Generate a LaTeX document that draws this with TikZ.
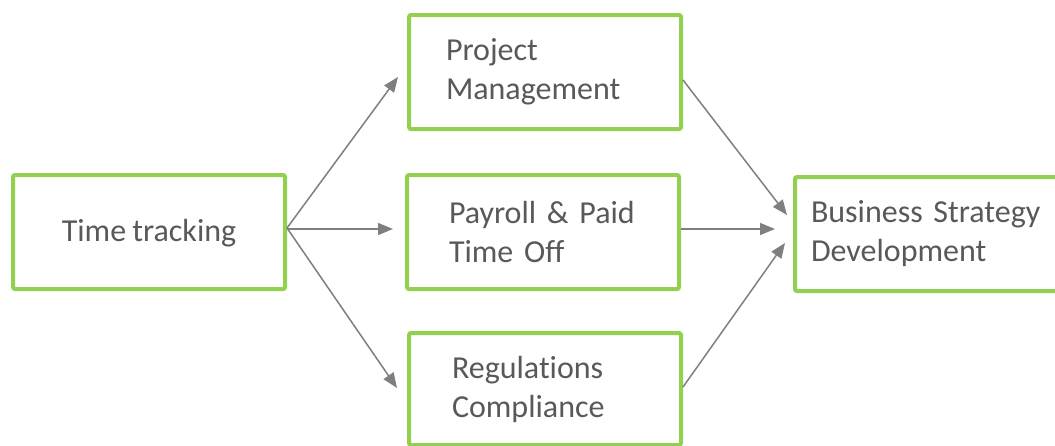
\documentclass[tikz,border=0pt]{standalone}
\usepackage{fontspec}
\setmainfont{Carlito}[Ligatures=NoCommon, WordSpace=0.85]
\usetikzlibrary{arrows.meta}
\definecolor{boxgreen}{HTML}{92D050}
\definecolor{labelgray}{HTML}{595959}
\definecolor{linkgray}{HTML}{7F7F7F}
\tikzset{
  stagebox/.style={draw=boxgreen, line width=4pt, rounded corners=2pt, fill=white,
    text=labelgray, font=\fontsize{32}{39}\selectfont, inner ysep=0pt},
  leftlabel/.style={align=left, text width=#1},
  link/.style={draw=linkgray, line width=1.5pt, -{Triangle[length=15pt,width=12pt]}}
}
\begin{document}
\begin{tikzpicture}[x=1pt, y=-1pt]
  \useasboundingbox (0,0) rectangle (1055,445);
  \clip (0,0) rectangle (1055,445);

  % stages (text lowered a little inside each frame)
  \node[stagebox, minimum width=272pt, minimum height=114pt, align=center,
    text depth=4pt] (tt) at (149,232) {Time tracking};
  \node[stagebox, minimum width=272pt, minimum height=114pt, inner xsep=37pt,
    leftlabel=198pt] (pm) at (545,72) {Project\\Management};
  \node[stagebox, minimum width=272pt, minimum height=114pt, inner xsep=42pt,
    leftlabel=188pt] (pr) at (543,232) {\raisebox{-3pt}{\parbox{188pt}{Payroll \& Paid\\Time Off}}};
  \node[stagebox, minimum width=272pt, minimum height=112pt, inner xsep=43pt,
    leftlabel=186pt] (rc) at (545,389) {Regulations\\Compliance};
  \node[stagebox, minimum width=270pt, minimum height=114pt, inner xsep=16pt,
    leftlabel=238pt] (bs) at (930,234) {Business Strategy\\Development};

  % arrow tips
  \coordinate (pmIn) at (398,77);
  \coordinate (prIn) at (393,229);
  \coordinate (rcIn) at (397,388);
  \coordinate (bsInA) at (787,215);
  \coordinate (bsInB) at (775,229);
  \coordinate (bsInC) at (785,243);

  % connectors
  \draw[link] ([yshift=4pt]tt.east) -- (pmIn);
  \draw[link] ([yshift=3pt]tt.east) -- (prIn);
  \draw[link] ([yshift=4pt]tt.east) -- (rcIn);
  \draw[link] ([yshift=-8pt]pm.east) -- (bsInA);
  \draw[link] ([yshift=3pt]pr.east) -- (bsInB);
  \draw[link] ([yshift=2pt]rc.east) -- (bsInC);
\end{tikzpicture}
\end{document}
